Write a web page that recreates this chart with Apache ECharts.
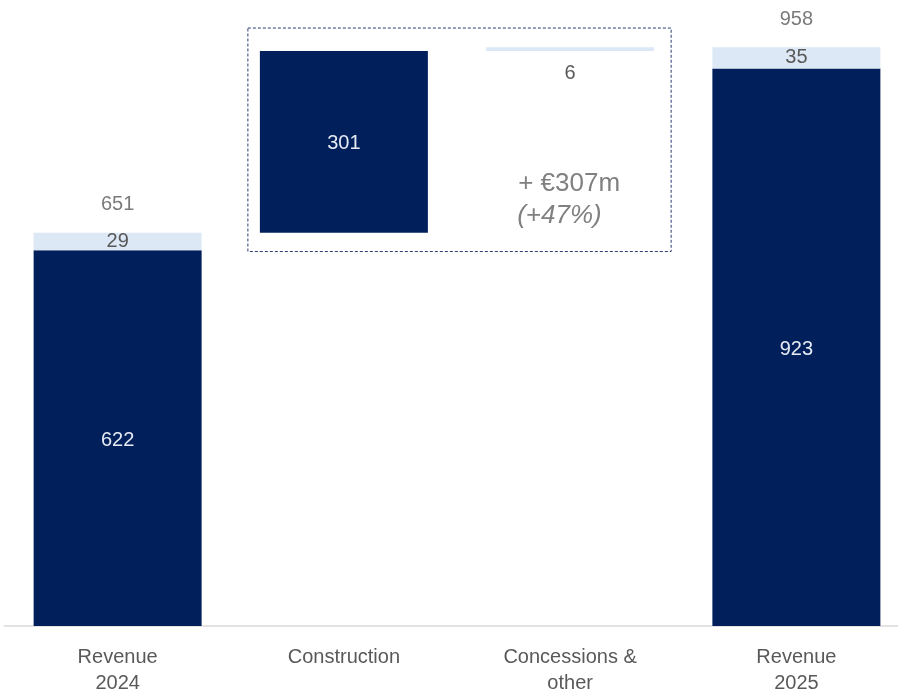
<!DOCTYPE html>
<html><head><meta charset="utf-8">
<script src="https://cdn.jsdelivr.net/npm/echarts@6/dist/echarts.min.js"></script>
<style>html,body{margin:0;padding:0;background:#fff;overflow:hidden;width:898px;height:696px}#c{width:912px;height:696px}</style>
</head><body><div id="c"></div>
<script>
const categories = ['Revenue\n2024', 'Construction', 'Concessions &\nother', 'Revenue\n2025'];
const baseValues = [0, 651, 952, 0];
const darkValues = [622, 301, '-', 923];
const lightValues = [29, '-', 6, 35];
const totalValues = [651, '-', '-', 958];
const changeText = '+ €307m';
const changePct = '(+47%)';

const DARK = '#001f5b';
const LIGHT = '#dce8f5';
const GRAY = '#595959';
const FONT = 'Liberation Sans, Arial, sans-serif';

const chart = echarts.init(document.getElementById('c'));
chart.setOption({
  animation: false,
  grid: { left: 4.5, width: 905, top: 22, bottom: 66, containLabel: false },
  xAxis: {
    type: 'category', data: categories,
    axisLine: { lineStyle: { color: '#e3e3e3', width: 2 } },
    axisTick: { show: false },
    axisLabel: { color: GRAY, fontSize: 20, fontFamily: FONT, lineHeight: 26, margin: 18 }
  },
  yAxis: { type: 'value', min: 0, max: 1000, show: false, splitLine: { show: false } },
  series: [
    { type: 'bar', stack: 't', data: baseValues, barWidth: 168, itemStyle: { color: 'transparent' }, silent: true },
    { type: 'bar', stack: 't', data: darkValues, barWidth: 168, itemStyle: { color: DARK },
      label: { show: true, position: 'inside', color: '#e6ebf3', fontSize: 20, fontFamily: FONT, offset: [0, 2] } },
    { type: 'bar', stack: 't', barWidth: 168, itemStyle: { color: LIGHT },
      data: lightValues.map((v, i) => i === 2 ? { value: v, label: { position: 'bottom', distance: 12 } } : v),
      label: { show: true, position: 'inside', color: GRAY, fontSize: 20, fontFamily: FONT } },
    { type: 'scatter', data: totalValues, symbolSize: 0,
      label: { show: true, position: 'top', distance: 18, color: GRAY, fontSize: 20, fontFamily: FONT } }
  ]
});

function drawAnnot() {
  const tl = chart.convertToPixel({ gridIndex: 0 }, [1, 990]);
  const br = chart.convertToPixel({ gridIndex: 0 }, [2, 620]);
  const x0 = tl[0] - 96, x1 = br[0] + 101;
  const txt = chart.convertToPixel({ gridIndex: 0 }, [2, 732]);
  const txt2 = chart.convertToPixel({ gridIndex: 0 }, [2, 680]);
  chart.setOption({
    graphic: [
      { type: 'rect', shape: { x: x0, y: tl[1], width: x1 - x0, height: br[1] - tl[1] },
        style: { fill: 'none', stroke: '#2a3c70', lineWidth: 1, lineDash: [3, 2] }, silent: true },
      { type: 'text', x: txt[0] - 1, y: txt[1], style: { text: changeText, fill: '#808080', font: '26px ' + FONT, textAlign: 'center', textVerticalAlign: 'middle' } },
      { type: 'text', x: txt2[0] - 53, y: txt2[1], style: { text: changePct, fill: '#808080', font: 'italic 26px ' + FONT, textAlign: 'left', textVerticalAlign: 'middle' } }
    ]
  });
}
drawAnnot();
</script></body></html>
